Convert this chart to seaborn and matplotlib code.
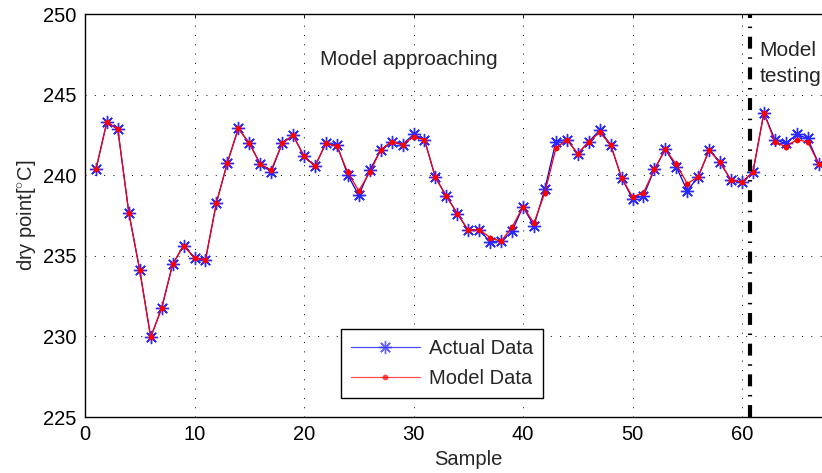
import matplotlib
matplotlib.use("Agg")
import matplotlib.pyplot as plt
import pandas as pd
import seaborn as sns
from matplotlib.lines import Line2D

# Sample index and measured / predicted dry point values
sample = list(range(1, 68))
actual = [240.36, 243.31, 242.84, 237.68, 234.10, 229.95, 231.75, 234.47, 235.63, 234.88,
          234.74, 238.28, 240.77, 242.90, 241.99, 240.70, 240.20, 241.97, 242.48, 241.18,
          240.56, 241.97, 241.90, 240.00, 238.76, 240.31, 241.55, 242.09, 241.90, 242.53,
          242.21, 239.86, 238.70, 237.62, 236.58, 236.63, 235.86, 235.90, 236.52, 238.05,
          236.85, 239.17, 242.07, 242.21, 241.34, 242.07, 242.80, 241.90, 239.84, 238.55,
          238.70, 240.37, 241.60, 240.52, 239.03, 239.90, 241.55, 240.79, 239.69, 239.57,
          240.20, 243.87, 242.21, 241.97, 242.53, 242.28, 240.72]
model = [240.36, 243.31, 242.84, 237.68, 234.10, 229.95, 231.75, 234.47, 235.63, 234.88,
         234.74, 238.28, 240.77, 242.90, 241.99, 240.70, 240.31, 241.97, 242.48, 241.18,
         240.56, 241.97, 241.80, 240.17, 239.03, 240.17, 241.55, 242.09, 241.90, 242.38,
         242.21, 239.86, 238.70, 237.62, 236.58, 236.63, 236.13, 235.90, 236.77, 238.05,
         237.04, 238.92, 241.66, 242.21, 241.34, 242.07, 242.65, 241.90, 239.84, 238.66,
         238.90, 240.37, 241.60, 240.68, 239.48, 239.90, 241.55, 240.79, 239.69, 239.57,
         240.20, 243.87, 242.07, 241.76, 242.21, 242.07, 240.72]
split_sample = 60.75
x_ticks = [0, 10, 20, 30, 40, 50, 60]
y_ticks = [225, 230, 235, 240, 245, 250]

sns.set_style("white")
plt.rcParams["font.family"] = ["Liberation Sans", "DejaVu Sans"]
plt.rcParams["mathtext.fontset"] = "custom"
plt.rcParams["mathtext.rm"] = "Liberation Sans"
plt.rcParams["lines.scale_dashes"] = False

FS = 14.5

df = pd.DataFrame({"Sample": sample, "actual": actual, "model": model})

fig = plt.figure(figsize=(8.22, 4.73), dpi=100)
ax = fig.add_axes([85 / 822, 56 / 473, 766.5 / 822, 403 / 473])

sns.lineplot(data=df, x="Sample", y="actual", ax=ax, color="#0000ff", lw=0.9,
             marker=(8, 2, 0), markersize=9.5, markeredgewidth=1.0,
             markeredgecolor="#2a2aff", label="Actual Data", zorder=3)
sns.lineplot(data=df, x="Sample", y="model", ax=ax, color="#ff0000", lw=0.9,
             marker="o", markersize=4.2, markeredgewidth=0,
             label="Model Data", zorder=4)

# boundary between the approaching and testing phases
ax.axvline(split_sample, color="k", lw=3, linestyle=(0, (8.6, 6.2, 1.1, 6.2)), zorder=5)

ax.set_xlim(0, 70)
ax.set_ylim(225, 250)
ax.set_xticks(x_ticks)
ax.set_yticks(y_ticks)
ax.grid(True, color="k", lw=0.7, linestyle=(0, (0.7, 6.0)))
ax.tick_params(direction="in", length=3, width=0.6, top=True, right=True,
               labelsize=FS, pad=6, colors="k")
for s in ax.spines.values():
    s.set_color("k")
    s.set_linewidth(1.0)

ax.set_xlabel("Sample", fontsize=FS, labelpad=4)
ax.set_ylabel("dry point[$^{\\circ}$C]", fontsize=FS, labelpad=4)

ax.text(29.6, 247.15, "Model approaching", fontsize=15, ha="center", va="center")
ax.text(61.6, 246.93, "Model\ntesting", fontsize=15, ha="left", va="center",
        linespacing=1.45)

leg = ax.legend(loc="upper left", bbox_to_anchor=(0.334, 0.218), borderaxespad=0,
                fontsize=FS, fancybox=False, edgecolor="k", framealpha=1,
                handlelength=3.4, handletextpad=0.45, labelspacing=0.55,
                borderpad=0.5)
leg.get_frame().set_linewidth(1.0)
for h in leg.legend_handles:
    if isinstance(h, Line2D):
        h.set_alpha(0.7)

fig.savefig("out.png", dpi=100)
